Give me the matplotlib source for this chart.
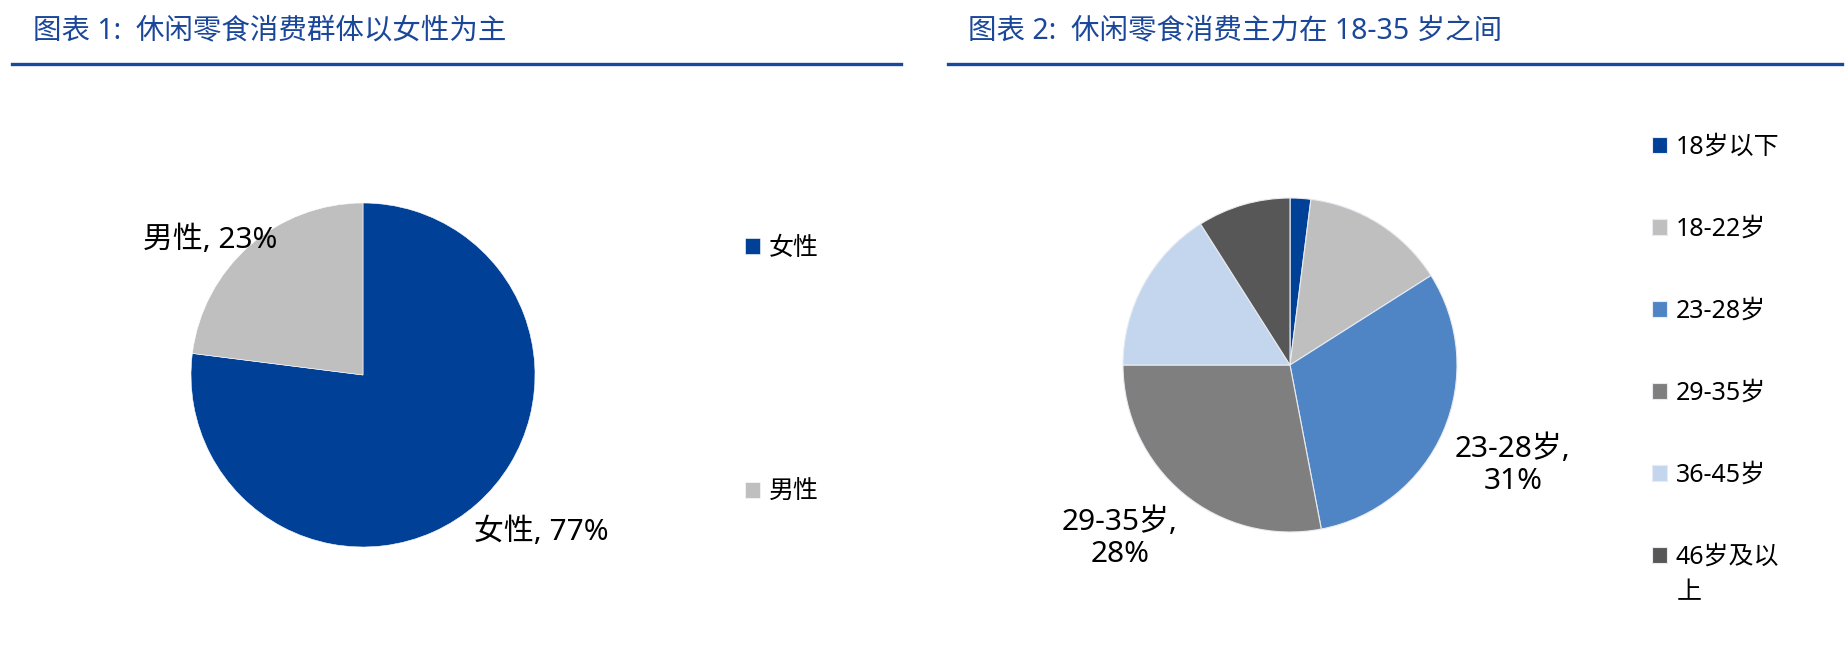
import matplotlib.pyplot as plt

plt.rcParams["font.family"] = ["Noto Sans", "Noto Sans CJK SC", "DejaVu Sans"]

# chart 1: gender
gender_labels = ["女性", "男性"]
gender_values = [77, 23]
gender_colors = ["#004097", "#BFBFBF"]

# chart 2: age groups
age_labels = ["18岁以下", "18-22岁", "23-28岁", "29-35岁", "36-45岁", "46岁及以"]
age_label_wrap = "上"  # second line of the last legend entry
age_values = [2, 14, 31, 28, 16, 9]
age_colors = ["#004097", "#BFBFBF", "#5085C5", "#7F7F7F", "#C3D6EE", "#575757"]

title_1 = "图表 1:  休闲零食消费群体以女性为主"
title_2 = "图表 2:  休闲零食消费主力在 18-35 岁之间"

W, H = 1846, 668
fig = plt.figure(figsize=(W / 100, H / 100), dpi=100)


def px_axes(cx, cy, r):
    # axes square around a pie centre given in pixels from top-left
    return fig.add_axes([(cx - r) / W, 1 - (cy + r) / H, 2 * r / W, 2 * r / H])


title_color = "#1A4799"
line_color = "#1848A0"
fig.text(33 / W, 1 - 31 / H, title_1, fontsize=20.5, color=title_color, va="center", ha="left")
fig.text(968 / W, 1 - 31 / H, title_2, fontsize=20.5, color=title_color, va="center", ha="left")
fig.add_artist(plt.Line2D([12 / W, 901 / W], [1 - 64 / H] * 2, color=line_color, lw=2.4))
fig.add_artist(plt.Line2D([948 / W, 1842 / W], [1 - 64 / H] * 2, color=line_color, lw=2.4))

leg_kw = dict(loc="upper left", bbox_transform=fig.transFigure, frameon=False, fontsize=18,
              handlelength=0.6, handleheight=0.6, handletextpad=0.35, borderpad=0,
              borderaxespad=0)

# pie 1
ax1 = px_axes(363, 375, 172)
wedges1, _ = ax1.pie(gender_values, colors=gender_colors, startangle=90, counterclock=False,
                     wedgeprops=dict(edgecolor="white", linewidth=0.4))
ax1.set_xlim(-1, 1)
ax1.set_ylim(-1, 1)
ax1.set_aspect("equal")
ax1.text(-0.89, 0.785, f"{gender_labels[1]}, {gender_values[1]}%", fontsize=21.5,
         ha="center", va="center", clip_on=False)
ax1.text(1.035, -0.913, f"{gender_labels[0]}, {gender_values[0]}%", fontsize=21.5,
         ha="center", va="center", clip_on=False)
ax1.legend(wedges1, gender_labels, bbox_to_anchor=(745 / W, 1 - 236 / H),
           labelspacing=8.75, **leg_kw)

# pie 2
ax2 = px_axes(1290, 365, 167)
wedges2, _ = ax2.pie(age_values, colors=age_colors, startangle=90, counterclock=False,
                     wedgeprops=dict(edgecolor="#E8ECF2", linewidth=0.8))
ax2.set_xlim(-1, 1)
ax2.set_ylim(-1, 1)
ax2.set_aspect("equal")
ax2.text(1.335, -0.6, f"{age_labels[2]},\n{age_values[2]}%", fontsize=21.5,
         ha="center", va="center", linespacing=1.15, clip_on=False)
ax2.text(-1.018, -1.036, f"{age_labels[3]},\n{age_values[3]}%", fontsize=21.5,
         ha="center", va="center", linespacing=1.15, clip_on=False)
ax2.legend(wedges2, age_labels, bbox_to_anchor=(1652 / W, 1 - 135 / H),
           labelspacing=2.28, **leg_kw)
fig.text(1677 / W, 1 - 593 / H, age_label_wrap, fontsize=18, ha="left", va="center")

fig.savefig("out.png", dpi=100)
